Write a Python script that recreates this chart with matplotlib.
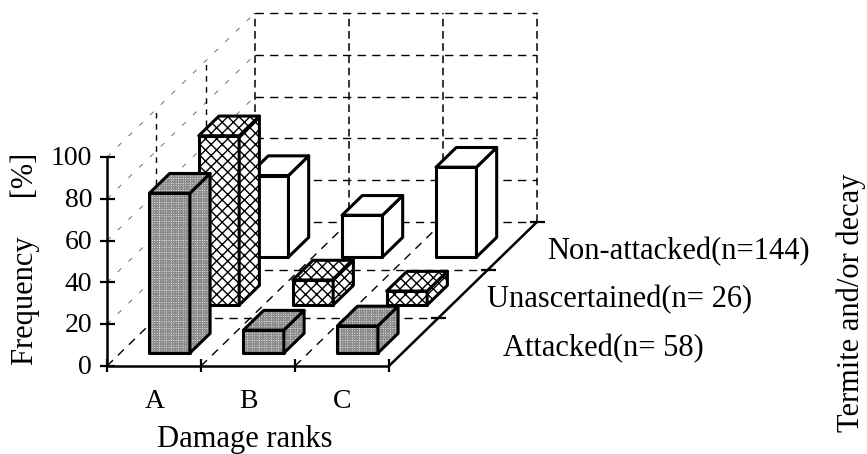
#!/usr/bin/env python3
"""Oblique pseudo-3D bars: damage ranks vs. termite / decay state."""

import numpy as np
import matplotlib

matplotlib.use("Agg")
import matplotlib.pyplot as plt
from matplotlib.patches import Polygon

RANKS = ["A", "B", "C"]
Y_TICKS = [0, 20, 40, 60, 80, 100]
SERIES_LABELS = ["Attacked(n= 58)", "Unascertained(n= 26)", "Non-attacked(n=144)"]

ATTACKED = [76.5, 11, 13]
UNASCERTAINED = [81, 12, 6.7]
NON_ATTACKED = [39, 20, 43]

HATCHES = ["+++++++", "xxx", None]
HATCH_COLORS = ["0.55", "k", "k"]

# pixel layout of the original, turned into data units
W, H = 867, 454
X0, Y0 = 107, 366
PX_RANK, PX_VAL = 94.0, 2.09
DX = 49.3 / PX_RANK   # rank units per depth step
DY = 48.0 / PX_VAL    # value units per depth step

BAR_X, BAR_W = 0.31, 0.43
BAR_D0, BAR_D = 0.27, 0.41

plt.rcParams["font.family"] = ["Liberation Serif", "DejaVu Serif"]
plt.rcParams["hatch.linewidth"] = 1.0


def proj(rank, depth, val):
    """Oblique projection of (rank, depth, value) into axes data coords."""
    return rank + depth * DX, val + depth * DY


def dashed(ax, a, b, lw=1.0, color="k", dash=(6, 4.5), zorder=1):
    p, q = proj(*a), proj(*b)
    ax.plot([p[0], q[0]], [p[1], q[1]], color=color, lw=lw,
            dashes=dash, zorder=zorder)


def solid(ax, a, b, lw=1.8, zorder=5):
    p, q = proj(*a), proj(*b)
    ax.plot([p[0], q[0]], [p[1], q[1]], color="k", lw=lw,
            solid_capstyle="butt", zorder=zorder)


def bar(ax, rank, depth, h, hatch, hcolor, zorder):
    x0, x1 = rank + BAR_X, rank + BAR_X + BAR_W
    d0, d1 = depth + BAR_D0, depth + BAR_D0 + BAR_D
    faces = [
        [(x0, d0, 0), (x1, d0, 0), (x1, d0, h), (x0, d0, h)],
        [(x1, d0, 0), (x1, d1, 0), (x1, d1, h), (x1, d0, h)],
        [(x0, d0, h), (x1, d0, h), (x1, d1, h), (x0, d1, h)],
    ]
    for f in faces:
        pts = [proj(*v) for v in f]
        # hatch takes the edge colour, so the outline gets its own patch
        ax.add_patch(Polygon(pts, closed=True, facecolor="w", edgecolor=hcolor,
                             lw=0, hatch=hatch, zorder=zorder))
        ax.add_patch(Polygon(pts, closed=True, fill=False, edgecolor="k",
                             lw=2.2, joinstyle="round", zorder=zorder))


def main():
    fig = plt.figure(figsize=(W / 100, H / 100), dpi=100)
    ax = fig.add_axes([0, 0, 1, 1])
    ax.set_xlim(-X0 / PX_RANK, (W - X0) / PX_RANK)
    ax.set_ylim((Y0 - H) / PX_VAL, Y0 / PX_VAL)
    ax.axis("off")

    # back wall
    for v in Y_TICKS:
        dashed(ax, (0, 3, v), (3, 3, v))
    for r in range(4):
        dashed(ax, (r, 3, 0), (r, 3, 100), lw=1.1, dash=(5, 3))

    # left wall
    for v in Y_TICKS[1:]:
        dashed(ax, (0, 0, v), (0, 3, v), lw=0.6, color="0.35", dash=(6, 12))
    for d in (1, 2):
        dashed(ax, (0, d, 0), (0, d, 100), lw=1.0, dash=(4, 4))

    # floor
    for r in range(3):
        dashed(ax, (r, 0, 0), (r, 3, 0), lw=1.0, dash=(6, 5))
    for d in (1, 2):
        dashed(ax, (0, d, 0), (3, d, 0))

    # bars, back row first
    rows = [ATTACKED, UNASCERTAINED, NON_ATTACKED]
    for depth in (2, 1, 0):
        for r, h in enumerate(rows[depth]):
            bar(ax, r, depth, h, HATCHES[depth], HATCH_COLORS[depth],
                zorder=3 + (2 - depth))

    # solid axes
    solid(ax, (0, 0, 0), (0, 0, 100))
    solid(ax, (0, 0, 0), (3, 0, 0))
    solid(ax, (3, 0, 0), (3, 3, 0))
    for v in Y_TICKS:
        solid(ax, (-7 / PX_RANK, 0, v), (8 / PX_RANK, 0, v), lw=1.6)
        ax.text(-15 / PX_RANK, v - 0.8, str(v), ha="right", va="center", fontsize=20)
    for r in range(4):
        solid(ax, (r, 0, -6 / PX_VAL), (r, 0, 7 / PX_VAL), lw=1.6)
    for d in (1, 2, 3):
        solid(ax, (3 - 7 / PX_RANK, d, 0), (3 + 8 / PX_RANK, d, 0), lw=1.6)

    # text, placed in pixels of the original
    to_data = lambda px, py: ((px - X0) / PX_RANK, (Y0 - py) / PX_VAL)
    for r, name in enumerate(RANKS):
        x, y = to_data(155 + 93.5 * r, 402)
        ax.text(x, y, name, ha="center", va="center", fontsize=20)
    ax.text(*to_data(245, 440), "Damage ranks", ha="center", va="center", fontsize=22)
    ax.text(*to_data(25, 259), "Frequency     [%]", rotation=90, ha="center",
            va="center", fontsize=22)
    ax.text(*to_data(851, 303), "Termite and/or decay", rotation=90, ha="center",
            va="center", fontsize=22)
    for label, px, py in zip(SERIES_LABELS, (503, 487, 547), (349, 300, 252)):
        ax.text(*to_data(px, py), label, ha="left", va="center", fontsize=22)

    fig.savefig("out.png", dpi=100)


if __name__ == "__main__":
    main()
